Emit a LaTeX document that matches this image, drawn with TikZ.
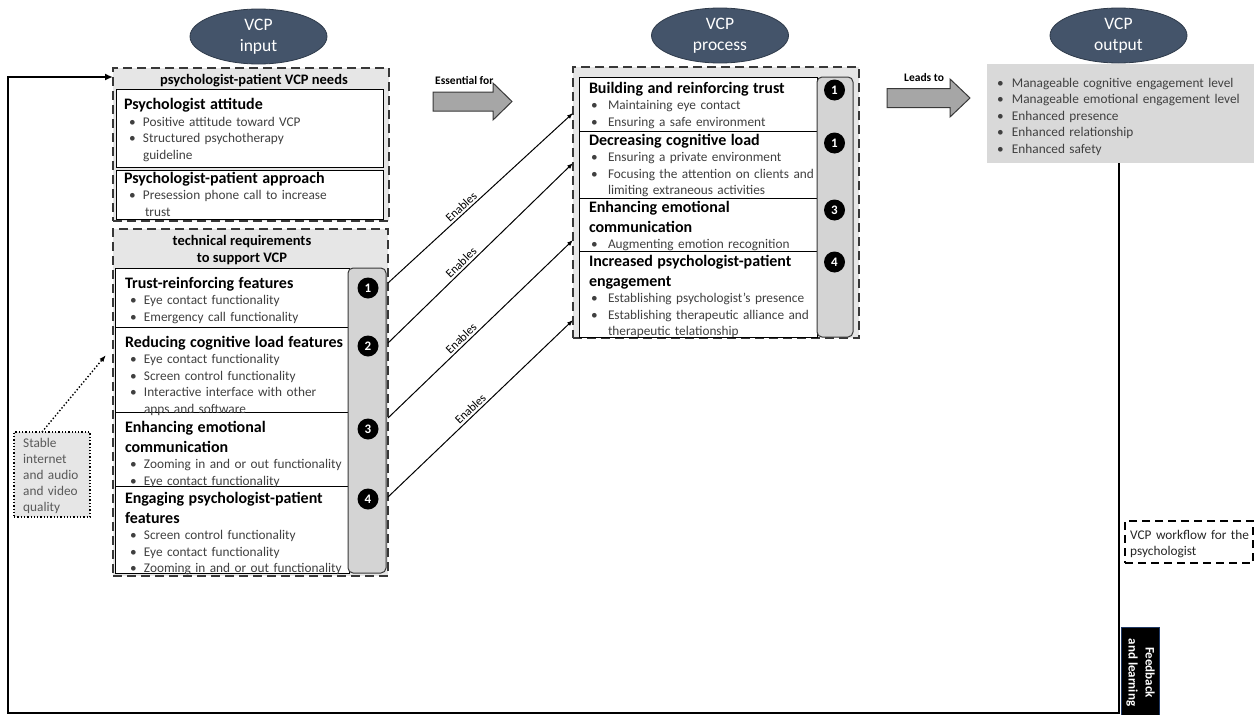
\documentclass[tikz,border=0pt]{standalone}
\usepackage{fontspec}
\setmainfont{Carlito}
\usetikzlibrary{shapes.geometric,arrows.meta,calc}
\definecolor{ellfill}{HTML}{44546A}
\definecolor{elldraw}{HTML}{2E3A4A}
\definecolor{panel}{HTML}{E6E6E6}
\definecolor{numcol}{HTML}{D4D4D4}
\definecolor{outfill}{HTML}{D9D9D9}
\definecolor{arrfill}{HTML}{A6A6A6}
\definecolor{edge}{HTML}{383838}
\definecolor{bodytxt}{HTML}{404040}
\definecolor{stabletxt}{HTML}{595959}
\definecolor{fbborder}{HTML}{1F3864}
\newlength\bulx
\setlength\bulx{5pt}
\newcommand{\hd}[1]{{\leavevmode\fontsize{16}{20}\selectfont\bfseries\color{black}#1\par}}
\newcommand{\itm}[1]{\noindent\makebox[19pt][l]{\hspace{\bulx}\textbullet}\parbox[t]{\dimexpr\linewidth-19pt\relax}{#1}\par}
\begin{document}
\begin{tikzpicture}[x=1pt,y=-1pt,
  vcp/.style={ellipse, fill=ellfill, draw=elldraw, line width=0.8, minimum width=137, minimum height=55, inner sep=0, text=white, align=center, font=\fontsize{17.5}{21}\selectfont},
  panelbox/.style={draw=edge, line width=1.6, dash pattern=on 9pt off 5pt, fill=panel, anchor=north west, inner sep=0, outer sep=0},
  whitebox/.style={draw=black, line width=1, fill=white, anchor=north west, inner sep=0, outer sep=0},
  numbar/.style={draw=edge, line width=1, fill=numcol, rounded corners=5, anchor=north west, inner sep=0, outer sep=0},
  num/.style={circle, fill=black, text=white, minimum size=21, inner sep=0, font=\fontsize{13}{13}\selectfont\bfseries},
  body/.style={anchor=base west, inner sep=0, outer sep=0, text width=#1, text=bodytxt, font=\fontsize{13.3}{16.5}\selectfont},
  body/.default=222pt,
  hdr/.style={inner sep=0, font=\fontsize{14.5}{17.5}\selectfont\bfseries, align=center, text=black},
  blockarr/.style={fill=arrfill, draw=edge, line width=1},
  arrlbl/.style={anchor=base west, inner sep=0, font=\fontsize{11.5}{12}\selectfont\bfseries},
  enab/.style={line width=1, -{Latex[length=6,width=4.5]}},
  enlbl/.style={sloped, above, pos=0.42, inner sep=2, font=\fontsize{12}{12}\selectfont},
  fb/.style={line width=1.8, -{Latex[length=8,width=7]}}
]
\useasboundingbox (0,0) rectangle (1254,715);

% ---------- ellipses ----------
\node[vcp] (ein) at (258.5,36.5) {VCP\\input};
\node[vcp] (eproc) at (720,35.5) {VCP\\process};
\node[vcp] (eout) at (1118.5,35.5) {VCP\\output};

% ---------- input: needs ----------
\node[panelbox, minimum width=276, minimum height=153] (needs) at (113,68) {};
\node[hdr, anchor=base] (needsh) at (254,84) {psychologist-patient VCP needs};
\node[whitebox, minimum width=267, minimum height=78] (boxa) at (116,89) {};
\node[whitebox, minimum width=267, minimum height=49] (boxb) at (116,170) {};
\node[body=255pt] (ta) at (124,109.5) {\hd{Psychologist attitude}\itm{Positive attitude toward VCP}\itm{Structured psychotherapy\newline guideline}};
\node[body=255pt] (tb) at (124,183) {\hd{Psychologist-patient approach}\itm{Presession phone call to increase\newline\hspace*{2pt}trust}};

% ---------- input: technical ----------
\node[panelbox, minimum width=275, minimum height=347] (tech) at (113,229) {};
\node[hdr] (techh) at (242,250) {technical requirements\\to support VCP};
\node[whitebox, minimum width=234, minimum height=59] (t1) at (115,268) {};
\node[whitebox, minimum width=234, minimum height=85] (t2) at (115,327) {};
\node[whitebox, minimum width=234, minimum height=74] (t3) at (115,412) {};
\node[whitebox, minimum width=234, minimum height=87] (t4) at (115,486) {};
\node[numbar, minimum width=38, minimum height=305] (tbar) at (348,268) {};
\node[num] (n1) at (368,288) {1};
\node[num] (n2) at (368,346) {2};
\node[num] (n3) at (368,429) {3};
\node[num] (n4) at (368,499) {4};
\node[body] (tt1) at (125,288) {\hd{Trust-reinforcing features}\itm{Eye contact functionality}\itm{Emergency call functionality}};
\node[body] (tt2) at (125,347) {\hd{Reducing cognitive load features}\itm{Eye contact functionality}\itm{Screen control functionality}\itm{Interactive interface with other\newline apps and software}};
\node[body] (tt3) at (125,432) {\hd{Enhancing emotional\newline communication}\itm{Zooming in and or out functionality}\itm{Eye contact functionality}};
\node[body] (tt4) at (125,503) {\hd{Engaging psychologist-patient\newline features}\itm{Screen control functionality}\itm{Eye contact functionality}\itm{Zooming in and or out functionality}};

% ---------- process ----------
\node[panelbox, minimum width=286, minimum height=271] (proc) at (573,67) {};
\node[whitebox, minimum width=238, minimum height=54] (p1) at (579,77) {};
\node[whitebox, minimum width=238, minimum height=67] (p2) at (579,131) {};
\node[whitebox, minimum width=238, minimum height=53] (p3) at (579,198) {};
\node[whitebox, minimum width=238, minimum height=86] (p4) at (579,251) {};
\node[numbar, minimum width=36, minimum height=260] (pbar) at (817,77) {};
\node[num] (m1) at (834.5,90) {1};
\node[num] (m2) at (834.5,143) {1};
\node[num] (m3) at (834.5,210) {3};
\node[num] (m4) at (834.5,262) {4};
\node[body=226pt] (tp1) at (589,93) {\setlength\bulx{2pt}\hd{Building and reinforcing trust}\itm{Maintaining eye contact}\itm{Ensuring a safe environment}};
\node[body=226pt] (tp2) at (589,145) {\setlength\bulx{2pt}\hd{Decreasing cognitive load}\itm{Ensuring a private environment}\itm{Focusing the attention on clients and\newline limiting extraneous activities}};
\node[body=226pt] (tp3) at (589,212) {\setlength\bulx{2pt}\hd{Enhancing emotional\newline communication}\itm{Augmenting emotion recognition}};
\node[body=226pt] (tp4) at (589,266) {\setlength\bulx{2pt}\hd{Increased psychologist-patient\newline engagement}\itm{Establishing psychologist’s presence}\itm{Establishing therapeutic alliance and\newline therapeutic telationship}};

% ---------- output ----------
\node[fill=outfill, anchor=north west, inner sep=0, outer sep=0, minimum width=267, minimum height=99] (outbox) at (987,64) {};
\node[body=256pt] (tout) at (993,87) {\setlength\bulx{4pt}\itm{Manageable cognitive engagement level}\itm{Manageable emotional engagement level}\itm{Enhanced presence}\itm{Enhanced relationship}\itm{Enhanced safety}};

% ---------- block arrows ----------
\draw[blockarr] (433,92) -- (493,92) -- (493,83) -- (512,101.5) -- (493,120) -- (493,111) -- (433,111) -- cycle;
\node[arrlbl] (esslbl) at (435,84) {Essential for};
\draw[blockarr] (887,88.5) -- (950,88.5) -- (950,79) -- (970,98) -- (950,117) -- (950,107.5) -- (887,107.5) -- cycle;
\node[arrlbl] (leadlbl) at (904,81) {Leads to};

% ---------- enables connectors ----------
\coordinate (e1a) at (388,283); \coordinate (e1b) at (573,113);
\coordinate (e2a) at (388,343); \coordinate (e2b) at (573,163);
\coordinate (e3a) at (388,418); \coordinate (e3b) at (573,240);
\coordinate (e4a) at (388,497); \coordinate (e4b) at (573,320);
\draw[enab] (e1a) -- node[enlbl] (l1) {Enables} (e1b);
\draw[enab] (e2a) -- node[enlbl] (l2) {Enables} (e2b);
\draw[enab] (e3a) -- node[enlbl] (l3) {Enables} (e3b);
\draw[enab] (e4a) -- node[enlbl, pos=0.47] (l4) {Enables} (e4b);

% ---------- stable box ----------
\node[draw=black, dotted, line width=1.3, fill=panel, anchor=north west, inner sep=0, outer sep=0, minimum width=76, minimum height=85] (stable) at (14,432) {};
\node[anchor=base west, inner sep=0, text width=62pt, text=stabletxt, font=\fontsize{13.3}{16}\selectfont] (stablet) at (23,447) {Stable\newline internet\newline and audio\newline and video\newline quality};
\coordinate (dotend) at (106,355);
\draw[dotted, line width=1.4, -{Latex[length=7,width=5]}] ([xshift=-10pt]stable.north) -- (dotend);

% ---------- workflow box ----------
\node[draw=black, line width=1.3, dash pattern=on 8pt off 5pt, anchor=north west, inner sep=0, outer sep=0, minimum width=128, minimum height=42] (wf) at (1125,521) {};
\node[anchor=base west, inner sep=0, text width=122pt, text=black!85, font=\fontsize{13.3}{16}\selectfont] (wft) at (1130,539) {VCP workflow for the\newline psychologist};

% ---------- feedback loop ----------
\draw[fb] ([xshift=-1.5pt]outbox.south) |- (8,713) -- (8,77) -- ($(needs.north west)+(0,9)$);
\node[fill=black, draw=fbborder, line width=1, anchor=north west, inner sep=0, minimum width=38, minimum height=90] (fbk) at (1121,627) {};
\node[rotate=-90, text=white, align=center, inner sep=0, font=\fontsize{13}{17}\selectfont\bfseries] (fbt) at (fbk.center) {Feedback\\and learning};
\end{tikzpicture}
\end{document}
